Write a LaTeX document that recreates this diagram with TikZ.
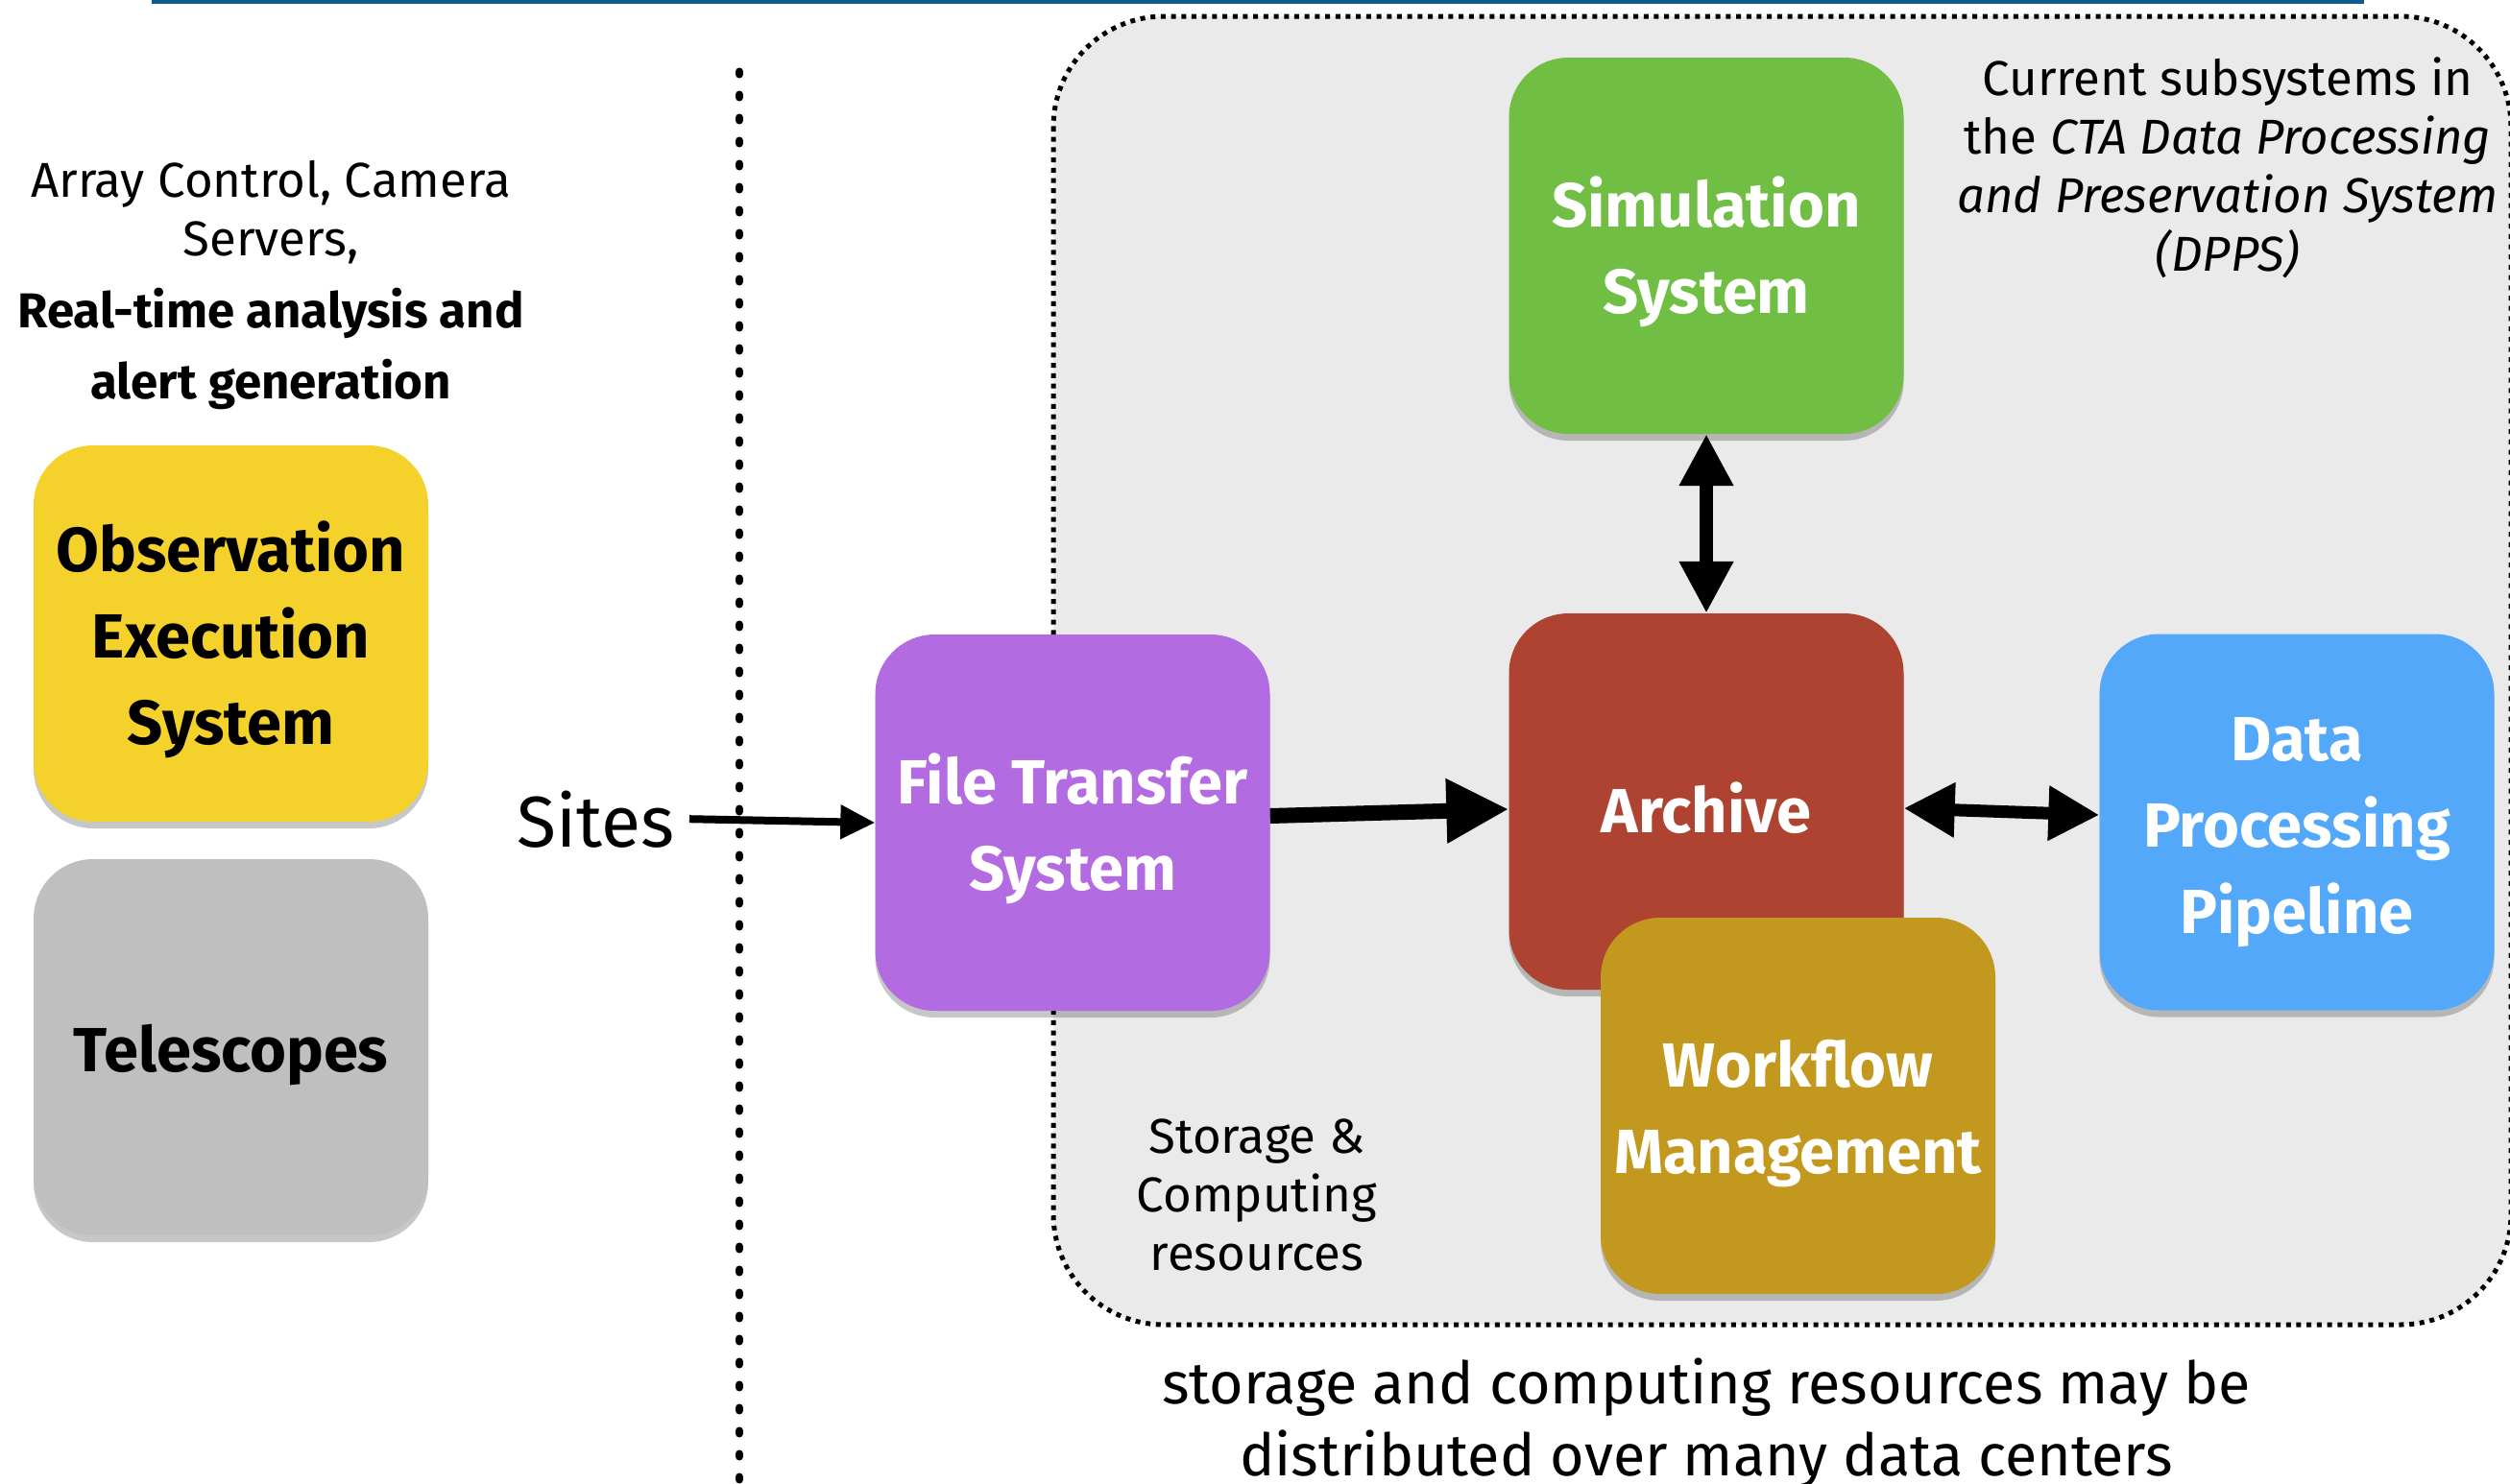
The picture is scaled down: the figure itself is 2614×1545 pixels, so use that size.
\documentclass[tikz,border=0pt]{standalone}
\usepackage{fontspec}
\setmainfont{Fira Sans}
\usetikzlibrary{arrows.meta,shadows}
\definecolor{cyellow}{HTML}{F5D22B}
\definecolor{cgray}{HTML}{BFBFBF}
\definecolor{cpurple}{HTML}{B36BE2}
\definecolor{cgreen}{HTML}{70BF44}
\definecolor{cred}{HTML}{AF4331}
\definecolor{cblue}{HTML}{53A8F9}
\definecolor{cgold}{HTML}{C3981E}
\definecolor{cbg}{HTML}{EAEAEA}
\definecolor{ctop}{HTML}{0E5C8E}
\newcommand\boxstrut{\rule{0pt}{66pt}}
\begin{document}
\begin{tikzpicture}[x=1pt,y=-1pt,
  box/.style={rounded corners=62pt, minimum width=411pt, minimum height=392pt,
    inner sep=0pt, align=center, text=white,
    font=\fontsize{65}{90}\selectfont\bfseries,
    drop shadow={shadow xshift=0pt, shadow yshift=-7pt, opacity=0.22, fill=black}},
  txt/.style={inner sep=0pt, align=center, anchor=base},
]
\useasboundingbox (0,0) rectangle (2614,1545);
% region
\draw[line width=5pt, dash pattern=on 5pt off 5.7pt, fill=cbg, rounded corners=115pt]
  (1097,17) rectangle (2615,1380);
% top rule
\fill[ctop] (158,0) rectangle (2462,4);
% dotted separator
\draw[line width=8pt, line cap=round, dash pattern=on 3pt off 21pt] (770,74.5) -- (770,1560);

% left texts
\node[txt, font=\fontsize{51}{61}\selectfont] (info) at (282,415)
  {Array Control, Camera\\Servers,\\[14pt]\textbf{Real-time analysis and}\\[13pt]\textbf{alert generation}};
\node[inner sep=0pt, anchor=base east, font=\fontsize{75}{90}\selectfont] (sites) at (703,882) {Sites};

% boxes
\node[box, fill=cyellow, text=black] (oes) at (240.5,660) {\boxstrut Observation\\Execution\\System};
\node[box, fill=cgray, text=black] (tel) at (240.5,1091) {\boxstrut Telescopes};
\node[box, fill=cpurple] (fts) at (1117,857) {\boxstrut File Transfer\\System};
\node[box, fill=cgreen] (sim) at (1777,256) {\boxstrut Simulation\\System};
\node[box, fill=cred] (arch) at (1777,835) {\boxstrut Archive};
\node[box, fill=cgold] (wms) at (1872.5,1152) {\boxstrut Workflow\\Management};
\node[box, fill=cblue] (dpp) at (2392,856.5) {\boxstrut Data\\Processing\\Pipeline};

% right texts
\node[txt, font=\fontsize{51}{61}\selectfont] (dpps) at (2320,282)
  {Current subsystems in\\the \textit{CTA Data Processing}\\\textit{and Preservation System}\\\textit{(DPPS)}};
\node[txt, font=\fontsize{51}{61}\selectfont] (storage) at (1309,1323)
  {Storage \&\\Computing\\resources};
\node[txt, font=\fontsize{61}{75}\selectfont] (note) at (1777,1537)
  {storage and computing resources may be\\distributed over many data centers};

% connectors
\draw[line width=8pt, -{Triangle[length=36pt,width=34pt]}] ([xshift=15pt]sites.east) -- (fts.west);
\draw[line width=16pt, -{Triangle[length=65pt,width=63pt]}] ([yshift=7pt]fts.east) -- ([yshift=-8pt]arch.west);
\draw[line width=14pt, {Triangle[length=54pt,width=53pt]}-{Triangle[length=54pt,width=53pt]}] (sim.south) -- (arch.north);
\draw[line width=13pt, {Triangle[length=53pt,width=54pt]}-{Triangle[length=53pt,width=54pt]}] ([yshift=-7pt]arch.east) -- ([yshift=7.5pt]dpp.west);
\end{tikzpicture}
\end{document}
